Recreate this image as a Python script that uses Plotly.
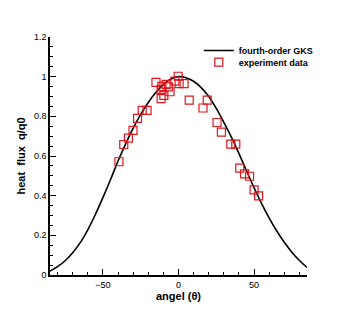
import plotly.graph_objects as go

# GKS curve
curve_angle = [-85, -80, -75, -70, -65, -60, -55, -50, -45, -40, -35, -30, -25, -20, -15, -10, -5,
               0, 5, 10, 15, 20, 25, 30, 35, 40, 45, 50, 55, 60, 65, 70, 75, 80, 85]
curve_q = [0.02, 0.042, 0.072, 0.112, 0.163, 0.228, 0.305, 0.39, 0.48, 0.575, 0.66, 0.74, 0.81, 0.87, 0.92, 0.96, 0.988,
           1.0, 0.995, 0.977, 0.945, 0.9, 0.84, 0.77, 0.695, 0.612, 0.525, 0.44, 0.36, 0.287, 0.222, 0.165, 0.115, 0.073, 0.038]

# experiment data
exp_angle = [-39.4, -36.2, -33.1, -30.1, -27.1, -24.0, -20.8, -14.9, -11.0, -8.2, -6.7, -11.5, -5.6, -9.7, -11.5,
             -2.4, -0.2, 0.4, 3.7, 7.1, 19.0, 16.2, 25.5, 28.4, 34.6, 37.9, 40.5, 43.7, 47.0, 50.0, 53.0]
exp_q = [0.571, 0.658, 0.69, 0.729, 0.79, 0.83, 0.83, 0.971, 0.951, 0.961, 0.949, 0.936, 0.924, 0.906, 0.889,
         0.978, 1.002, 0.965, 0.965, 0.882, 0.882, 0.842, 0.769, 0.72, 0.66, 0.66, 0.539, 0.51, 0.498, 0.429, 0.399]

x_ticks = [-50, 0, 50]
y_ticks = [0, 0.2, 0.4, 0.6, 0.8, 1, 1.2]

fig = go.Figure()
fig.add_trace(go.Scatter(x=curve_angle, y=curve_q, mode="lines", line=dict(color="black", width=1.6, shape="spline"),
                         name="fourth-order GKS", legend="legend"))
fig.add_trace(go.Scatter(x=exp_angle, y=exp_q, mode="markers",
                         marker=dict(symbol="square-open", size=8, color="rgb(220,25,30)", line=dict(width=1.2)),
                         name="experiment data", legend="legend2"))

font = "Liberation Sans, Arial, sans-serif"
leg_common = dict(xanchor="left", yanchor="top", bgcolor="rgba(0,0,0,0)",
                  font=dict(size=9, family=font, weight="bold"), itemwidth=30)
fig.update_layout(
    width=349, height=310,
    margin=dict(l=38, r=50, t=29, b=43),
    paper_bgcolor="white", plot_bgcolor="white",
    font=dict(family=font, size=9, color="black"),
    showlegend=True,
    legend=dict(x=0.579, y=1.004, **leg_common),
    legend2=dict(x=0.579, y=0.955, **leg_common),
    xaxis=dict(range=[-85, 85], tickvals=x_ticks, ticks="inside", ticklen=6, tickwidth=1, tickcolor="black",
               minor=dict(dtick=10, ticks="inside", ticklen=3, tickcolor="black", showgrid=False),
               showline=True, linecolor="black", linewidth=1.5, showgrid=False, zeroline=False,
               title=dict(text="angel (θ)", font=dict(size=11, weight="bold"), standoff=2)),
    yaxis=dict(range=[0, 1.2], tickvals=y_ticks, ticks="inside", ticklen=6, tickwidth=1, tickcolor="black",
               minor=dict(dtick=0.05, ticks="inside", ticklen=3, tickcolor="black", showgrid=False),
               showline=True, linecolor="black", linewidth=1.5, showgrid=False, zeroline=False,
               title=dict(text="heat  flux  q/q0", font=dict(size=11, weight="bold"), standoff=6)),
)
fig.write_html("out.html")
